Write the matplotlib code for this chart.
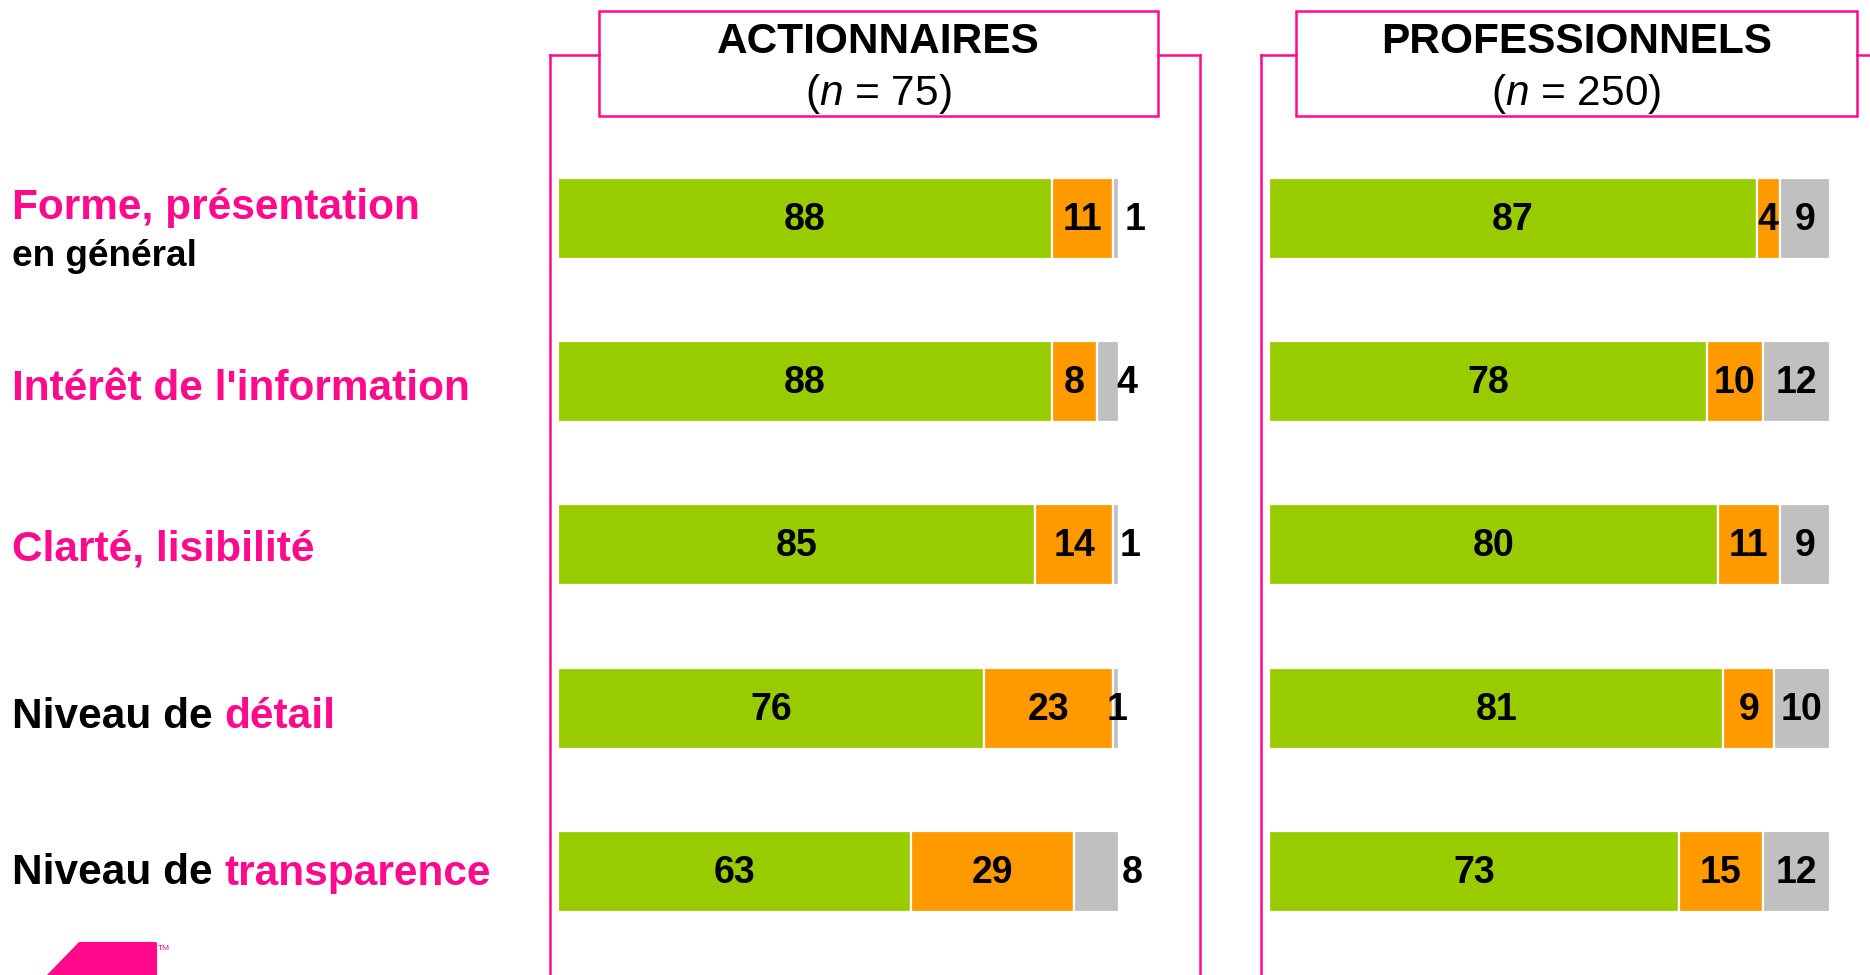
import matplotlib
matplotlib.use("Agg")
import matplotlib.pyplot as plt
from matplotlib.patches import Rectangle, Polygon
from matplotlib.lines import Line2D
from matplotlib.text import Annotation

plt.rcParams['font.family'] = ['Liberation Sans', 'DejaVu Sans']
plt.rcParams['mathtext.fontset'] = 'custom'
plt.rcParams['mathtext.rm'] = 'Liberation Sans'
plt.rcParams['mathtext.it'] = 'Liberation Sans:italic'

# ---- data ----
groups = ["ACTIONNAIRES", "PROFESSIONNELS"]
group_n = [75, 250]
categories = ["Forme, présentation", "Intérêt de l'information", "Clarté, lisibilité",
              "Niveau de détail", "Niveau de transparence"]
satisfied_act = [88, 88, 85, 76, 63]
neutral_act = [11, 8, 14, 23, 29]
unsatisfied_act = [1, 4, 1, 1, 8]
satisfied_pro = [87, 78, 80, 81, 73]
neutral_pro = [4, 10, 11, 9, 15]
unsatisfied_pro = [9, 12, 9, 10, 12]

GREEN = "#99CC00"
ORANGE = "#FF9900"
GRAY = "#C0C0C0"
PINK = "#FF0A8C"

W, H = 1870, 975
fig = plt.figure(figsize=(W / 100, H / 100), dpi=100)


def fx(px):
    return px / W


def fy(py):
    return 1 - py / H


# category rows: centres at y pixel 218 + 163.4*i
row0, step = 218.0, 163.4
ylim_top = -row0 / step
ylim_bot = (H - row0) / step
bar_h = 81 / step

panels = [
    (558, (satisfied_act, neutral_act, unsatisfied_act)),
    (1269, (satisfied_pro, neutral_pro, unsatisfied_pro)),
]
gray_outside_x_left = [102.9, 101.4, 102.0, 99.6, 102.4]

for p, (x0, series) in enumerate(panels):
    ax = fig.add_axes([fx(x0), 0, fx(561), 1])
    ax.set_xlim(0, 100)
    ax.set_ylim(ylim_bot, ylim_top)
    ax.axis('off')
    left = [0] * len(categories)
    ys = list(range(len(categories)))
    for k, (vals, col) in enumerate(zip(series, [GREEN, ORANGE, GRAY])):
        ax.barh(ys, vals, left=left, height=bar_h, color=col,
                edgecolor='white', linewidth=1.6)
        for i, v in enumerate(vals):
            cx = left[i] + v / 2
            if p == 0 and k == 2:
                cx = gray_outside_x_left[i]
            ax.text(cx, i + 0.01, str(v), ha='center', va='center',
                    fontsize=27, fontweight='bold', color='black', clip_on=False)
        left = [l + v for l, v in zip(left, vals)]

# ---- frames and header boxes ----
frames = [
    dict(lx=550, rx=1200, bx0=599, bx1=1158),
    dict(lx=1261, rx=None, bx0=1296, bx1=1857),
]
frame_y = 55
lw = 1.8
for g, fr in enumerate(frames):
    fig.add_artist(Line2D([fx(fr['lx'])] * 2, [fy(frame_y), fy(H + 5)], color=PINK, lw=lw))
    fig.add_artist(Line2D([fx(fr['lx']), fx(fr['bx0'])], [fy(frame_y)] * 2, color=PINK, lw=lw))
    right_end = fr['rx'] if fr['rx'] is not None else W + 5
    fig.add_artist(Line2D([fx(fr['bx1']), fx(right_end)], [fy(frame_y)] * 2, color=PINK, lw=lw))
    if fr['rx'] is not None:
        fig.add_artist(Line2D([fx(fr['rx'])] * 2, [fy(frame_y), fy(H + 5)], color=PINK, lw=lw))
    fig.add_artist(Rectangle((fx(fr['bx0']), fy(116)), fx(fr['bx1'] - fr['bx0']), (116 - 11) / H,
                             transform=fig.transFigure, facecolor='white', edgecolor=PINK, lw=lw))
    cx = fx((fr['bx0'] + fr['bx1']) / 2)
    fig.text(cx, fy(42), groups[g], ha='center', va='center', fontsize=30.5,
             fontweight='bold', color='black')
    fig.text(cx, fy(94), r"$(\mathit{n}$ = $\mathit{%d})$" % group_n[g], ha='center', va='center',
             fontsize=30.5, color='black')

# ---- category labels (multi-coloured) ----
label_parts = [
    [("Forme, présentation", PINK)],
    [("Intérêt de l'information", PINK)],
    [("Clarté, lisibilité", PINK)],
    [("Niveau de ", 'black'), ("détail", PINK)],
    [("Niveau de ", 'black'), ("transparence", PINK)],
]
label_y = [203, 385, 545, 712, 869]
for parts, ly in zip(label_parts, label_y):
    prev = fig.text(fx(12), fy(ly), parts[0][0], ha='left', va='center_baseline',
                    fontsize=30.5, fontweight='bold', color=parts[0][1])
    for txt, col in parts[1:]:
        ann = Annotation(txt, xy=(1, 0), xycoords=prev, ha='left', va='bottom',
                         fontsize=30.5, fontweight='bold', color=col)
        fig.add_artist(ann)
        prev = ann

fig.text(fx(12), fy(252), "en général", ha='left', va='center_baseline',
         fontsize=26.6, fontweight='bold', color='black')

# ---- logo ----
logo = Polygon([[fx(45), fy(980)], [fx(80), fy(944)], [fx(155), fy(944)], [fx(155), fy(980)]],
               closed=True, transform=fig.transFigure, facecolor=PINK, edgecolor=PINK,
               joinstyle='round', lw=3)
fig.add_artist(logo)
fig.text(fx(158), fy(948), "TM", fontsize=6, color=PINK, ha='left', va='center')

fig.savefig("out.png", dpi=100, facecolor='white')
